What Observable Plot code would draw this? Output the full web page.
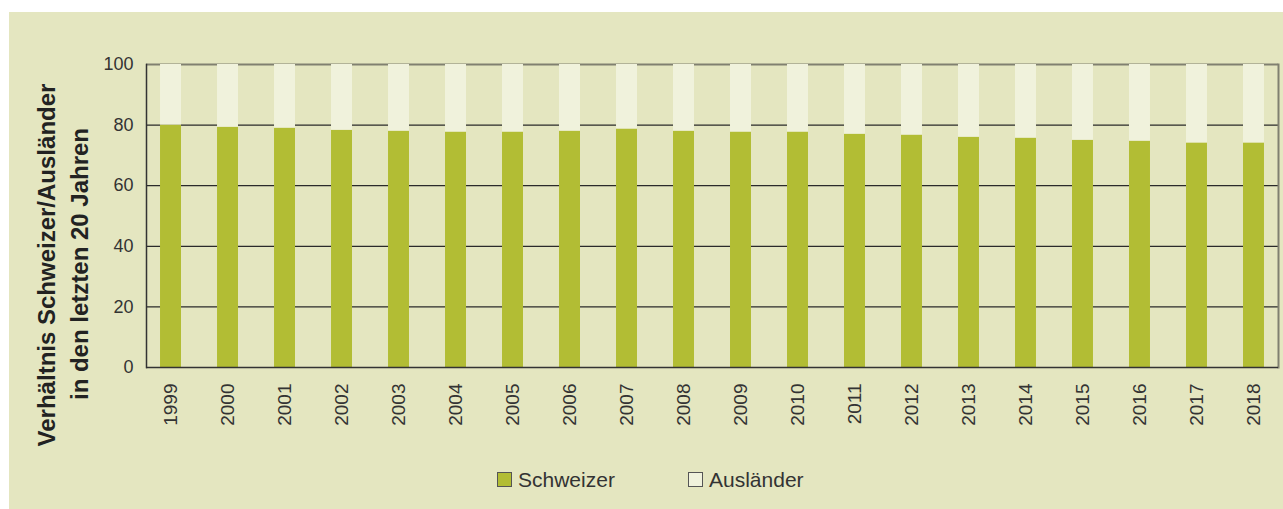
<!DOCTYPE html>
<html>
<head>
<meta charset="utf-8">
<script src="https://cdn.jsdelivr.net/npm/d3@7"></script>
<script src="https://cdn.jsdelivr.net/npm/@observablehq/plot@0.6"></script>
<style>
  html, body { margin: 0; padding: 0; background: #ffffff; }
  body { width: 1283px; height: 509px; position: relative; overflow: hidden; font-family: "Liberation Sans", Arial, sans-serif; }
  #panel { position: absolute; left: 9px; top: 12px; width: 1274px; height: 497px; background: #e4e6c0; }
  #chart { position: absolute; left: 0; top: 0; width: 1283px; height: 509px; }
  .ytitle { position: absolute; font-weight: bold; font-size: 24px; line-height: 24px; color: #222; white-space: nowrap;
            transform: translate(-50%, -50%) rotate(-90deg); }
  .legend { position: absolute; top: 469px; font-size: 21px; line-height: 21px; color: #333; display: flex; align-items: center; }
  .legend .sw { width: 13px; height: 13px; border: 1px solid #555; margin-right: 6px; }
</style>
</head>
<body>
<div id="panel"></div>
<div id="chart"></div>
<div class="ytitle" style="left:47px; top:265px;">Verhältnis Schweizer/Ausländer</div>
<div class="ytitle" style="left:80px; top:264px;">in den letzten 20 Jahren</div>
<div class="legend" style="left:497px;"><div class="sw" style="background:#b2bd34"></div>Schweizer</div>
<div class="legend" style="left:688px;"><div class="sw" style="background:#f0f2dc"></div>Ausländer</div>
<script>
const years = ["1999","2000","2001","2002","2003","2004","2005","2006","2007","2008","2009","2010","2011","2012","2013","2014","2015","2016","2017","2018"];
const schweizer = [80.0, 79.3, 79.0, 78.3, 78.0, 77.7, 77.7, 78.0, 78.7, 78.0, 77.7, 77.7, 77.0, 76.7, 76.0, 75.7, 75.0, 74.7, 74.1, 74.1];
const auslaender = [20.0, 20.7, 21.0, 21.7, 22.0, 22.3, 22.3, 22.0, 21.3, 22.0, 22.3, 22.3, 23.0, 23.3, 24.0, 24.3, 25.0, 25.3, 25.9, 25.9];
const groups = ["Schweizer", "Ausländer"];
const colors = ["#b2bd34", "#f0f2dc"];
const yTicks = [0, 20, 40, 60, 80, 100];

const rows = [];
years.forEach((y, i) => {
  rows.push({year: y, group: groups[0], value: schweizer[i]});
  rows.push({year: y, group: groups[1], value: auslaender[i]});
});

const chart = Plot.plot({
  width: 1283,
  height: 509,
  marginLeft: 146,
  marginRight: 5,
  marginTop: 64,
  marginBottom: 142,
  style: { background: "transparent", fontFamily: "Liberation Sans, Arial, sans-serif", fontSize: "18px", color: "#333" },
  x: { domain: years, paddingInner: 0.632, paddingOuter: 0.246, round: false, label: null },
  y: { domain: [0, 100], label: null },
  color: { domain: groups, range: colors },
  marks: [
    Plot.ruleY([20, 40, 60, 80], { stroke: "#2a2a2a", strokeWidth: 1.2 }),
    Plot.ruleY([100], { stroke: "#808070", strokeWidth: 2 }),
    Plot.barY(rows, Plot.stackY({ x: "year", y: "value", fill: "group", order: groups })),
    Plot.frame({ anchor: "right", stroke: "#808070", strokeWidth: 2 }),
    Plot.ruleY([0], { stroke: "#333", strokeWidth: 1.5 }),
    Plot.frame({ anchor: "left", stroke: "#333", strokeWidth: 1.5 }),
    Plot.axisY({ ticks: yTicks, tickSize: 0, tickPadding: 13, fontSize: 18, label: null, fill: "#333" }),
    Plot.axisX({ tickSize: 0, tickPadding: 16, tickRotate: -90, fontSize: 19, label: null, fill: "#333" })
  ]
});
document.getElementById("chart").appendChild(chart);
</script>
</body>
</html>
